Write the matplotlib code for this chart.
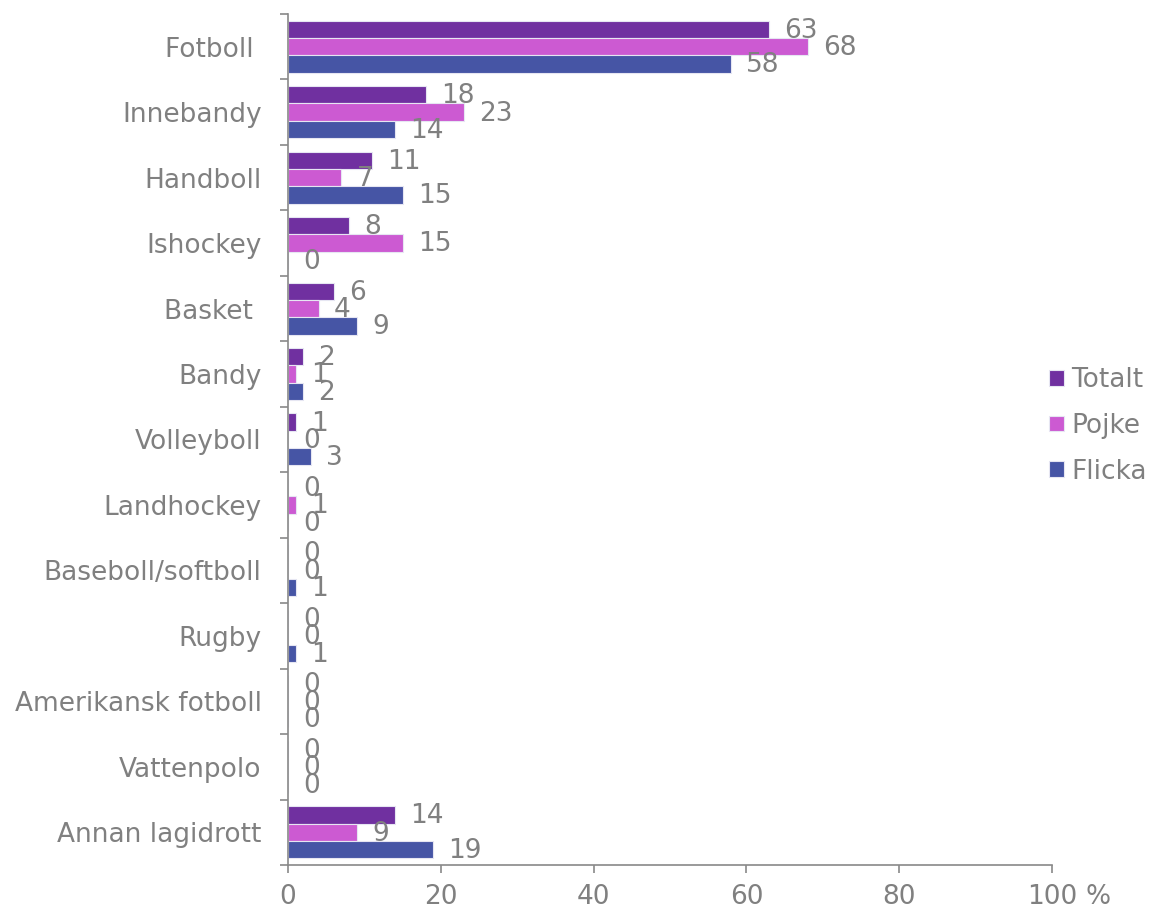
import numpy as np
import matplotlib.pyplot as plt

categories = ["Fotboll ", "Innebandy", "Handboll", "Ishockey", "Basket ", "Bandy",
              "Volleyboll", "Landhockey", "Baseboll/softboll", "Rugby",
              "Amerikansk fotboll", "Vattenpolo", "Annan lagidrott"]
totalt = [63, 18, 11, 8, 6, 2, 1, 0, 0, 0, 0, 0, 14]
pojke = [68, 23, 7, 15, 4, 1, 0, 1, 0, 0, 0, 0, 9]
flicka = [58, 14, 15, 0, 9, 2, 3, 0, 1, 1, 0, 0, 19]
xticks = [0, 20, 40, 60, 80, 100]

series = [("Totalt", totalt, "#7030a0"),
          ("Pojke", pojke, "#cc5ad2"),
          ("Flicka", flicka, "#4655a5")]

grey = "#808080"
fs = 19
plt.rcParams["font.family"] = "DejaVu Sans"

fig = plt.figure(figsize=(11.53, 9.13), dpi=100)
ax = fig.add_axes([0.2498, 0.0526, 0.6626, 0.9321])

y = np.arange(len(categories))
h = 0.265
for i, (name, vals, col) in enumerate(series):
    pos = y + (i - 1) * h
    ax.barh(pos, vals, height=h, color=col, edgecolor="#e6e6f2", linewidth=0.8, label=name)
    for p, v in zip(pos, vals):
        ax.annotate(str(v), (v, p), xytext=(11, -1), textcoords="offset points",
                    ha="left", va="center", fontsize=fs, color=grey)

ax.set_ylim(len(categories) - 0.5, -0.5)
ax.set_xlim(0, 100)
ax.set_yticks(y)
ax.set_yticklabels(categories)
ax.set_yticks(np.arange(len(categories) + 1) - 0.5, minor=True)
ax.tick_params(axis="y", which="major", length=0, pad=19, labelsize=fs, labelcolor=grey)
ax.tick_params(axis="y", which="minor", length=6, color="#898989", width=1.2)
ax.set_xticks(xticks)
ax.set_xticklabels([str(t) for t in xticks])
ax.tick_params(axis="x", length=6, color="#898989", width=1.2, pad=8, labelsize=fs, labelcolor=grey)
ax.annotate("%", xy=(100, 0), xycoords=("data", "axes fraction"), xytext=(24, -14),
            textcoords="offset points", ha="left", va="top", fontsize=fs, color=grey)

for s in ["top", "right"]:
    ax.spines[s].set_visible(False)
for s in ["left", "bottom"]:
    ax.spines[s].set_color("#898989")
    ax.spines[s].set_linewidth(1.2)

leg = ax.legend(loc="center left", bbox_to_anchor=(0.965, 0.516), frameon=False,
                fontsize=fs, handlelength=0.55, handleheight=0.55, handletextpad=0.3,
                labelspacing=0.75)
for t in leg.get_texts():
    t.set_color(grey)

fig.savefig("out.png", dpi=100)
